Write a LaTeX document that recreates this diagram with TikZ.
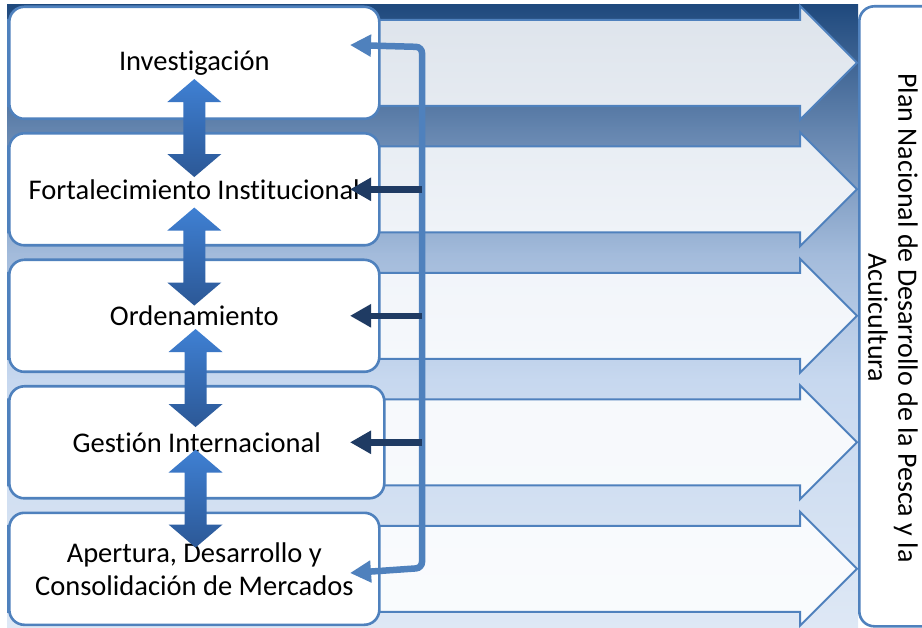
\documentclass[tikz,border=0pt]{standalone}
\usepackage{fontspec}
\setmainfont[Ligatures=NoCommon]{Carlito}
\usepackage{xcolor}
\usepackage{tikz}
\usetikzlibrary{arrows.meta,positioning,calc,backgrounds}

\definecolor{boxblue}{HTML}{4F81BD}
\definecolor{navy}{HTML}{1F3B63}
\definecolor{updowntop}{HTML}{3F80D3}
\definecolor{updownbot}{HTML}{2C5896}
\definecolor{bg0}{HTML}{1F497D}
\definecolor{bg1}{HTML}{6384AE}
\definecolor{bg2}{HTML}{A3BBDB}
\definecolor{bg3}{HTML}{C7D8EF}
\definecolor{bg4}{HTML}{DEE8F5}

\begin{document}
\begin{tikzpicture}[
    x=1pt, y=-1pt,
    node distance=11.9pt,
    stage/.style={rectangle, draw=boxblue, line width=2.6pt, fill=white, rounded corners=15pt, minimum width=370pt, minimum height=112pt, align=center, font=\fontsize{28.5}{33}\selectfont},
    goal/.style={rectangle, draw=boxblue, line width=2.6pt, fill=white, rounded corners=15pt},
    band/.style={draw=boxblue, line width=2pt, fill=white, fill opacity=0.85},
    updown/.style={top color=updowntop, bottom color=updownbot},
    loopline/.style={draw=boxblue, line width=6.5pt, rounded corners=6pt, {Triangle[length=21pt,width=21pt]}-{Triangle[length=21pt,width=21pt]}},
    arrow/.style={draw=navy, line width=6.5pt, -{Triangle[length=21pt,width=22pt]}}
]
\useasboundingbox (0,0) rectangle (922,628);
\clip (0,0) rectangle (922,628);

% stages
\node[stage, anchor=north west] (inv) at (8,5.5) {Investigación};
\node[stage, below=of inv] (fort) {Fortalecimiento Institucional};
\node[stage, below=of fort] (orden) {Ordenamiento};
\node[stage, below=of orden, minimum width=375pt, xshift=2.5pt] (gest) {Gestión Internacional};
\node[stage, below=of gest, xshift=-2.5pt] (merc) {Apertura, Desarrollo y\\Consolidación de Mercados};

% plan
\node[goal, anchor=north west, minimum width=120pt, minimum height=620pt] (plan) at (858,5) {};

% background fade and wide arrows towards the plan
\begin{scope}[on background layer]
\foreach \ya/\yb/\ca/\cb in {5/128/bg0/bg1, 128/254/bg1/bg2, 254/380/bg2/bg3, 380/628/bg3/bg4}
    \shade[top color=\ca, bottom color=\cb] (7,\ya) rectangle (858,\yb+1);
\foreach \n in {inv,fort,orden,gest,merc}
    \draw[band] (\n.west) ++(0,-43) -- ++(792,0) -- ++(0,-14) -- ++(57,57) -- ++(-57,57) -- ++(0,-14) -- ++(-792,0) -- cycle;
\end{scope}

% links between stages
\foreach \a/\b/\d in {inv/fort/2, fort/orden/4, orden/gest/-1, gest/merc/-7}
    \path[updown] ($(\a.south)!0.5!(\b.north)$) ++(0,\d-49) -- ++(27,23) -- ++(-16,0) -- ++(0,52) -- ++(16,0) -- ++(-27,23) -- ++(-27,-23) -- ++(16,0) -- ++(0,-52) -- ++(-16,0) -- cycle;

% feedback loop
\coordinate (invtip) at (350,45);
\coordinate (ttop) at (422,47);
\coordinate (tbot) at (422,568);
\coordinate (merctip) at (350,573);
\draw[loopline] (invtip) -- (ttop) -- (tbot) -- (merctip);
\foreach \n in {fort,orden,gest}
    \draw[arrow] (ttop |- \n.east) -- (invtip |- \n.east);

\node[rotate=-90, align=center, font=\fontsize{28}{30}\selectfont] (plantext) at (893,318) {Plan Nacional de Desarrollo de la Pesca y la\\Acuicultura};
\end{tikzpicture}
\end{document}
